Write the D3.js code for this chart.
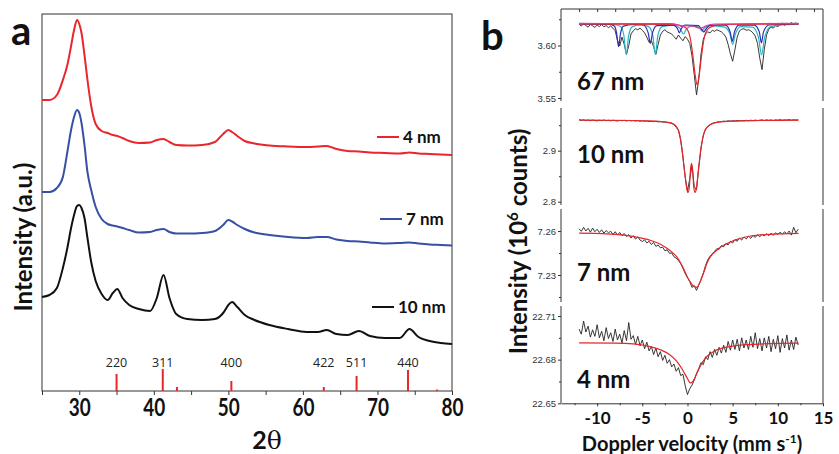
<!DOCTYPE html>
<html>
<head>
<meta charset="utf-8">
<script src="https://cdn.jsdelivr.net/npm/d3@7/dist/d3.min.js"></script>
<style>
  body { margin: 0; background: #fff; }
  svg { display: block; }
</style>
</head>
<body>
<div id="chart"></div>
<script>

// ---------- panel a : XRD ----------
var twoTheta = [25, 26, 27, 27.8, 28.4, 28.9, 29.3, 29.7, 30.0, 30.3, 30.7, 31.1, 31.6, 32.2, 33, 33.8, 34.5,
    35.1, 35.8, 36.7, 38, 39.5, 40.4, 41.3, 42.1, 43, 44.5, 46.5, 48.2, 49.3, 50.0, 50.5, 51.2, 52.2,
    53.5, 55.5, 58, 60.5, 62, 63.2, 64.5, 66, 67.5, 69, 71, 73, 74.3, 75.5, 77, 78.5, 80];
var xrd4nm = [291, 291, 296, 311, 326, 345, 361, 371, 367, 358, 336, 311, 285, 267, 260, 258, 256,
    255, 253, 250, 248, 248.5, 251, 252, 249, 246, 245.5, 246, 249, 257, 261, 259, 255, 250,
    247.5, 245.5, 244.5, 244, 244.5, 245, 242, 240, 239.5, 238.5, 238, 237.5, 238.5, 237.5, 237, 236.5, 236];
var xrd7nm = [199, 199, 203, 214, 239, 261, 274, 281, 278, 268, 246, 219, 201, 184, 172, 167, 165.5,
    164.5, 163, 161, 158.5, 159, 161, 162, 159, 157.5, 157.5, 158, 160, 166, 171, 169.5, 166, 162,
    158.5, 156, 154, 153, 154, 154, 151.5, 150, 149.5, 148.5, 147.5, 148, 148.5, 147.5, 146.5, 146, 145.5];
var xrd10nm = [94, 96, 103, 123, 143, 163, 176, 185, 186, 183, 173, 153, 129, 110, 97, 91, 98,
    102, 93, 86, 82, 80, 93, 116, 93, 77, 72, 71, 72, 78, 86, 89, 84, 76,
    71, 66, 62, 59, 59, 61, 57, 56, 60, 55, 53, 53, 62, 54, 50, 48, 47];
var refPos = [35.0, 41.2, 43.1, 50.4, 62.8, 67.2, 74.1, 78.0];
var refInt = [17, 22, 4, 10, 4, 15, 21, 1.5];
var refHkl = ["220", "311", "", "400", "422", "511", "440", ""];
var xrdTicks = [30, 40, 50, 60, 70, 80];
var xrdMinor = [25, 35, 45, 55, 65, 75];
var xrdNames = ["4 nm", "7 nm", "10 nm"];

// ---------- panel b : Mossbauer ----------
var vel = [-12,-11.75,-11.5,-11.25,-11,-10.75,-10.5,-10.25,-10,-9.75,-9.5,-9.25,-9,-8.75,-8.5,-8.25,
    -8,-7.75,-7.5,-7.25,-7,-6.75,-6.5,-6.25,-6,-5.75,-5.5,-5.25,-5,-4.75,-4.5,-4.25,
    -4,-3.75,-3.5,-3.25,-3,-2.75,-2.5,-2.25,-2,-1.75,-1.5,-1.25,-1,-0.75,-0.5,-0.25,
    0,0.25,0.5,0.75,1,1.25,1.5,1.75,2,2.25,2.5,2.75,3,3.25,3.5,3.75,
    4,4.25,4.5,4.75,5,5.25,5.5,5.75,6,6.25,6.5,6.75,7,7.25,7.5,7.75,
    8,8.25,8.5,8.75,9,9.25,9.5,9.75,10,10.25,10.5,10.75,11,11.25,11.5,11.75,12,12.25];

var counts67 = [3.6205,3.6185,3.6210,3.6190,3.6175,3.6200,3.6188,3.6172,
    3.6195,3.6180,3.6200,3.6178,3.6190,3.6170,3.6185,3.6165,
    3.6140,3.6050,3.5995,3.6080,3.6010,3.5915,3.6000,3.6110,
    3.6140,3.6160,3.6150,3.6165,3.6145,3.6120,3.6080,3.6030,
    3.6045,3.5990,3.5915,3.6010,3.6100,3.6135,3.6150,3.6130,
    3.6120,3.6110,3.6085,3.6060,3.6100,3.6070,3.6045,3.6085,
    3.6060,3.6020,3.5900,3.5720,3.5530,3.5680,3.5920,3.6060,
    3.6110,3.6130,3.6120,3.6145,3.6135,3.6150,3.6140,3.6130,
    3.6110,3.6080,3.6010,3.5920,3.5850,3.5960,3.6080,3.6140,
    3.6155,3.6160,3.6145,3.6150,3.6140,3.6120,3.6090,3.6020,
    3.5880,3.5770,3.5960,3.6100,3.6155,3.6175,3.6165,3.6190,
    3.6180,3.6195,3.6215,3.6190,3.6210,3.6195,3.6220,3.6200,
    3.6215,3.6200];
var counts10 = [2.9610,2.9595,2.9605,2.9590,2.9602,2.9588,2.9600,2.9592,
    2.9585,2.9598,2.9590,2.9602,2.9588,2.9596,2.9585,2.9598,
    2.9590,2.9582,2.9595,2.9587,2.9596,2.9584,2.9593,2.9585,
    2.9590,2.9580,2.9588,2.9578,2.9585,2.9575,2.9582,2.9572,
    2.9578,2.9570,2.9574,2.9565,2.9568,2.9560,2.9562,2.9552,
    2.9548,2.9535,2.9510,2.9460,2.9400,2.9210,2.8870,2.8480,
    2.8210,2.8450,2.8700,2.8300,2.8230,2.8680,2.9060,2.9300,
    2.9430,2.9480,2.9510,2.9535,2.9548,2.9558,2.9565,2.9570,
    2.9580,2.9574,2.9585,2.9578,2.9590,2.9582,2.9594,2.9586,
    2.9592,2.9584,2.9596,2.9588,2.9598,2.9590,2.9600,2.9592,
    2.9598,2.9604,2.9594,2.9606,2.9596,2.9603,2.9593,2.9605,
    2.9598,2.9608,2.9597,2.9605,2.9600,2.9610,2.9598,2.9607,
    2.9600,2.9606];
var counts7 = [7.2615,7.2598,7.2625,7.2600,7.2618,7.2592,7.2620,7.2595,
    7.2612,7.2590,7.2608,7.2585,7.2603,7.2588,7.2598,7.2576,
    7.2595,7.2572,7.2590,7.2568,7.2583,7.2562,7.2575,7.2552,
    7.2568,7.2545,7.2560,7.2538,7.2528,7.2540,7.2518,7.2530,
    7.2508,7.2522,7.2495,7.2505,7.2485,7.2490,7.2465,7.2472,
    7.2448,7.2450,7.2425,7.2415,7.2398,7.2378,7.2345,7.2310,
    7.2282,7.2255,7.2215,7.2228,7.2195,7.2232,7.2270,7.2312,
    7.2365,7.2405,7.2428,7.2445,7.2462,7.2480,7.2475,7.2500,
    7.2492,7.2515,7.2505,7.2530,7.2518,7.2542,7.2530,7.2552,
    7.2538,7.2560,7.2546,7.2565,7.2550,7.2570,7.2556,7.2575,
    7.2560,7.2578,7.2566,7.2582,7.2568,7.2585,7.2570,7.2588,
    7.2575,7.2592,7.2578,7.2595,7.2580,7.2600,7.2572,7.2625,
    7.2588,7.2612];
var counts4 = [22.7010,22.6975,22.7065,22.6990,22.7030,22.6955,22.7005,22.6960,
    22.7040,22.6950,22.6995,22.6930,22.7020,22.6945,22.6985,22.6925,
    22.7010,22.6935,22.6975,22.6915,22.7000,22.6930,22.7055,22.6940,
    22.6965,22.6905,22.6960,22.6895,22.6935,22.6875,22.6920,22.6860,
    22.6890,22.6835,22.6880,22.6820,22.6855,22.6795,22.6830,22.6775,
    22.6800,22.6750,22.6770,22.6720,22.6745,22.6690,22.6700,22.6620,
    22.6560,22.6600,22.6625,22.6660,22.6705,22.6740,22.6780,22.6765,
    22.6820,22.6800,22.6855,22.6815,22.6870,22.6830,22.6885,22.6845,
    22.6900,22.6850,22.6925,22.6865,22.6935,22.6870,22.6940,22.6860,
    22.6950,22.6880,22.6935,22.6870,22.6960,22.6885,22.6985,22.6875,
    22.6945,22.6860,22.6950,22.6880,22.6960,22.6855,22.6940,22.6875,
    22.6965,22.6850,22.6945,22.6880,22.6970,22.6865,22.6935,22.6870,
    22.6955,22.6900];

// fitted sub-spectra, [velocity, intensity]
var fit67Blue = [[-12,3.6205],[-8.6,3.6200],[-8.1,3.6185],[-7.85,3.6120],[-7.63,3.5990],[-7.4,3.6120],[-7.1,3.6185],
    [-6,3.6200],[-4.9,3.6195],[-4.35,3.6120],[-4.11,3.6020],[-3.87,3.6120],[-3.4,3.6190],[-1.6,3.6195],
    [-1.1,3.6160],[-0.9,3.6120],[-0.7,3.6160],[-0.2,3.6195],[1.2,3.6190],[1.6,3.6150],[1.8,3.6130],
    [2.0,3.6150],[2.5,3.6195],[4.2,3.6195],[4.72,3.6130],[4.96,3.6040],[5.2,3.6130],[5.7,3.6195],
    [7.4,3.6195],[7.95,3.6130],[8.18,3.6025],[8.42,3.6130],[9.0,3.6195],[12.3,3.6205]];
var fit67Cyan = [[-12,3.6205],[-8.2,3.6200],[-7.4,3.6180],[-7.05,3.6100],[-6.78,3.5915],[-6.5,3.6100],[-6.1,3.6180],
    [-5.2,3.6198],[-4.3,3.6180],[-3.85,3.6100],[-3.56,3.5915],[-3.27,3.6100],[-2.8,3.6180],[-1.5,3.6195],
    [-0.8,3.6160],[-0.45,3.6110],[-0.1,3.6160],[0.6,3.6190],[1.3,3.6170],[1.6,3.6140],[1.9,3.6170],
    [2.6,3.6190],[4.1,3.6175],[4.7,3.6110],[5.0,3.6010],[5.3,3.6110],[5.9,3.6180],[7.2,3.6175],
    [7.85,3.6080],[8.2,3.5910],[8.55,3.6080],[9.2,3.6180],[12.3,3.6205]];
var fit67Red = [[-12,3.6205],[-1.5,3.6200],[-0.5,3.6185],[0,3.6150],[0.35,3.6050],[0.6,3.5900],[0.85,3.5720],
    [1.07,3.5625],[1.3,3.5720],[1.55,3.5900],[1.8,3.6050],[2.2,3.6150],[2.8,3.6185],[4,3.6200],[12.3,3.6205]];
var fit67Magenta = [[-12,3.6210],[-2,3.6208],[-1,3.6195],[-0.6,3.6180],[-0.2,3.6190],[0.6,3.6185],[1.1,3.6170],
    [1.5,3.6165],[2.0,3.6185],[3,3.6205],[12.3,3.6210]];
var fit10Red = [[-12,2.9598],[-6,2.9592],[-3.5,2.9582],[-2.3,2.9560],[-1.6,2.9530],[-1.0,2.9400],[-0.6,2.9020],
    [-0.3,2.8560],[-0.08,2.8260],[0.05,2.8180],[0.2,2.8280],[0.33,2.8620],[0.45,2.8750],[0.57,2.8620],
    [0.7,2.8280],[0.85,2.8180],[0.98,2.8260],[1.2,2.8600],[1.5,2.9050],[1.9,2.9380],[2.5,2.9510],
    [3.4,2.9560],[5,2.9580],[8,2.9592],[12.3,2.9598]];
var fit7Red = [[-12,7.2585],[-9,7.2581],[-7,7.2572],[-5.5,7.2557],[-4.2,7.2538],[-3,7.2510],[-2,7.2470],
    [-1.2,7.2425],[-0.6,7.2365],[0.15,7.2268],[0.6,7.2228],[1.0,7.2216],[1.35,7.2245],[1.7,7.2300],
    [2.3,7.2400],[3.25,7.2470],[4.8,7.2527],[7.0,7.2566],[9.5,7.2579],[12.3,7.2584]];
var fit4Red = [[-12,22.6915],[-8,22.6914],[-6,22.6908],[-4.5,22.6895],[-3,22.6868],[-2,22.6835],[-1.2,22.6790],
    [-0.5,22.6725],[0,22.6670],[0.3,22.6640],[0.6,22.6650],[1.0,22.6700],[1.5,22.6765],[2.2,22.6825],
    [3,22.6860],[4.5,22.6888],[6.5,22.6903],[9,22.6910],[12.3,22.6913]];

var ticks67 = [3.55, 3.60], minor67 = [3.575, 3.625];
var ticks10 = [2.8, 2.9], minor10 = [2.85, 2.95];
var ticks7 = [7.23, 7.26], minor7 = [7.245, 7.215];
var ticks4 = [22.65, 22.68, 22.71], minor4 = [22.665, 22.695];
var velTicks = [-10, -5, 0, 5, 10, 15];
var velMinor = [-12.5, -7.5, -2.5, 2.5, 7.5, 12.5];
var velTopTicks = [-12, -10, -8, -6, -4, -2, 0, 2, 4, 6, 8, 10, 12, 14];
var sizeNames = ["67 nm", "10 nm", "7 nm", "4 nm"];

var LATO = "Lato, 'Open Sans', sans-serif";

var svg = d3.select("#chart").append("svg")
    .attr("width", 839).attr("height", 454);

// ================= panel a =================
var xA = d3.scaleLinear().domain([25, 80]).range([42, 452]);
var yA = d3.scaleLinear().domain([0, 377]).range([391, 14]);

svg.append("rect")
    .attr("x", 42).attr("y", 14).attr("width", 410).attr("height", 377)
    .attr("fill", "none").attr("stroke", "#333").attr("stroke-width", 1);

var axA = svg.append("g").attr("transform", "translate(0,391)")
    .call(d3.axisBottom(xA).tickValues(xrdTicks).tickSize(4).tickPadding(3).tickFormat(d3.format("d")));
axA.select(".domain").remove();
axA.selectAll("line").attr("stroke", "#333");
axA.selectAll("text")
    .attr("font-family", LATO).attr("font-weight", "bold").attr("font-size", 25)
    .attr("fill", "#111")
    .attr("textLength", 22).attr("lengthAdjust", "spacingAndGlyphs");

var axAm = svg.append("g").attr("transform", "translate(0,391)")
    .call(d3.axisBottom(xA).tickValues(xrdMinor).tickSize(4).tickFormat(""));
axAm.select(".domain").remove();
axAm.selectAll("line").attr("stroke", "#333");

var lineA = d3.line().curve(d3.curveMonotoneX);
var xrdSeries = [
    { vals: xrd4nm, color: "#e8262b", ly: 137 },
    { vals: xrd7nm, color: "#3550a5", ly: 219 },
    { vals: xrd10nm, color: "#111", ly: 307 }
];
xrdSeries.forEach(function(s, k) {
    var pts = twoTheta.map(function(t, i) { return [xA(t), yA(s.vals[i])]; });
    svg.append("path")
        .attr("d", lineA(pts))
        .attr("fill", "none").attr("stroke", s.color).attr("stroke-width", 2);
    var x0 = k == 2 ? 372 : (k == 1 ? 380 : 377);
    svg.append("line")
        .attr("x1", x0).attr("x2", x0 + 22).attr("y1", s.ly).attr("y2", s.ly)
        .attr("stroke", s.color).attr("stroke-width", 2);
    svg.append("text")
        .attr("x", x0 + 26).attr("y", s.ly + 6)
        .attr("font-family", LATO).attr("font-weight", "bold").attr("font-size", 17)
        .attr("fill", "#111")
        .text(xrdNames[k]);
});

// reference pattern bars
refPos.forEach(function(p, i) {
    svg.append("line")
        .attr("x1", xA(p)).attr("x2", xA(p))
        .attr("y1", yA(0)).attr("y2", yA(refInt[i]))
        .attr("stroke", "#e8262b").attr("stroke-width", 2);
    if (refHkl[i]) {
        svg.append("text")
            .attr("x", xA(p)).attr("y", 367)
            .attr("text-anchor", "middle")
            .attr("font-family", "'Open Sans', sans-serif").attr("font-size", 12.5)
            .attr("fill", "#222")
            .text(refHkl[i]);
    }
});

svg.append("text")
    .attr("transform", "translate(32,237) rotate(-90)")
    .attr("text-anchor", "middle")
    .attr("font-family", LATO).attr("font-weight", "bold").attr("font-size", 24)
    .attr("fill", "#111")
    .text("Intensity (a.u.)");

var tt = svg.append("text")
    .attr("x", 267).attr("y", 449)
    .attr("text-anchor", "middle")
    .attr("font-size", 25).attr("fill", "#111");
tt.append("tspan").attr("font-family", LATO).attr("font-weight", "bold").text("2");
tt.append("tspan").attr("font-family", "'DejaVu Serif', serif").text("\u03B8");

svg.append("text")
    .attr("x", 11).attr("y", 45)
    .attr("font-family", LATO).attr("font-weight", "bold").attr("font-size", 40)
    .attr("fill", "#111").text("a");

// ================= panel b =================
var xB = d3.scaleLinear().domain([-14, 15]).range([561, 823]);

var panels = [
    { counts: counts67, ticks: ticks67, minor: minor67, dom: [3.55, 3.60], rng: [98, 45.5], top: 9, bot: 101, ly: 90,
      fits: [[fit67Cyan, "#25b6c6"], [fit67Blue, "#2d2db4"], [fit67Red, "#e5262a"], [fit67Magenta, "#d93a9e"]] },
    { counts: counts10, ticks: ticks10, minor: minor10, dom: [2.8, 2.9], rng: [201.7, 150.7], top: 108, bot: 205, ly: 163,
      fits: [[fit10Red, "#e5262a"]] },
    { counts: counts7, ticks: ticks7, minor: minor7, dom: [7.23, 7.26], rng: [275, 231], top: 209, bot: 302, ly: 281,
      fits: [[fit7Red, "#e5262a"]] },
    { counts: counts4, ticks: ticks4, minor: minor4, dom: [22.65, 22.71], rng: [403.3, 316], top: 306, bot: 403.3, ly: 388,
      fits: [[fit4Red, "#e5262a"]] }
];

panels.forEach(function(p, k) {
    var y = d3.scaleLinear().domain(p.dom).range(p.rng);

    [561, 823].forEach(function(xx) {
        svg.append("line")
            .attr("x1", xx).attr("x2", xx).attr("y1", p.top).attr("y2", p.bot)
            .attr("stroke", "#333").attr("stroke-width", 1);
    });

    var ay = svg.append("g").attr("transform", "translate(561,0)")
        .call(d3.axisLeft(y).tickValues(p.ticks).tickSize(3).tickPadding(2).tickFormat(function(d) {
            return k == 1 ? d.toFixed(1) : d.toFixed(2);
        }));
    ay.select(".domain").remove();
    ay.selectAll("line").attr("stroke", "#333");
    ay.selectAll("text").attr("font-family", "'Liberation Sans', Arial, sans-serif")
        .attr("font-size", 9.5).attr("fill", "#333");

    var aym = svg.append("g").attr("transform", "translate(561,0)")
        .call(d3.axisLeft(y).tickValues(p.minor).tickSize(2).tickFormat(""));
    aym.select(".domain").remove();
    aym.selectAll("line").attr("stroke", "#333");

    var line = d3.line()
        .x(function(d, i) { return xB(vel[i]); })
        .y(function(d) { return y(d); });
    svg.append("path")
        .attr("d", line(p.counts))
        .attr("fill", "none").attr("stroke", "#222").attr("stroke-width", 0.9);

    var fitLine = d3.line()
        .x(function(d) { return xB(d[0]); })
        .y(function(d) { return y(d[1]); })
        .curve(d3.curveMonotoneX);
    p.fits.forEach(function(f) {
        svg.append("path")
            .attr("d", fitLine(f[0]))
            .attr("fill", "none").attr("stroke", f[1]).attr("stroke-width", 1.2);
    });

    svg.append("text")
        .attr("x", 577).attr("y", p.ly)
        .attr("font-family", LATO).attr("font-weight", "bold").attr("font-size", 24)
        .attr("fill", "#111").text(sizeNames[k]);
});

// top border of first panel with small ticks
svg.append("line").attr("x1", 561).attr("x2", 823).attr("y1", 9).attr("y2", 9)
    .attr("stroke", "#333").attr("stroke-width", 1);
var axTop = svg.append("g").attr("transform", "translate(0,9)")
    .call(d3.axisTop(xB).tickValues(velTopTicks).tickSize(-3).tickFormat(""));
axTop.select(".domain").remove();
axTop.selectAll("line").attr("stroke", "#333");

// bottom velocity axis
var axB = svg.append("g").attr("transform", "translate(0,403.3)")
    .call(d3.axisBottom(xB).tickValues(velTicks).tickSize(3).tickSizeOuter(0).tickPadding(6)
        .tickFormat(function(d) { return String(d); }));
axB.select(".domain").attr("stroke", "#333");
axB.selectAll("line").attr("stroke", "#333");
axB.selectAll("text")
    .attr("font-family", LATO).attr("font-weight", "bold").attr("font-size", 17)
    .attr("fill", "#111");
var axBm = svg.append("g").attr("transform", "translate(0,403.3)")
    .call(d3.axisBottom(xB).tickValues(velMinor).tickSize(2).tickFormat(""));
axBm.select(".domain").remove();
axBm.selectAll("line").attr("stroke", "#333");

var yl = svg.append("text")
    .attr("transform", "translate(527,241.5) rotate(-90)")
    .attr("text-anchor", "middle")
    .attr("font-family", LATO).attr("font-weight", "bold").attr("font-size", 24)
    .attr("fill", "#111");
yl.append("tspan").text("Intensity (10");
yl.append("tspan").attr("dy", -9).attr("font-size", 15).text("6");
yl.append("tspan").attr("dy", 9).text(" counts)");

var xl = svg.append("text")
    .attr("x", 692).attr("y", 451)
    .attr("text-anchor", "middle")
    .attr("font-family", LATO).attr("font-weight", "bold").attr("font-size", 20)
    .attr("fill", "#111");
xl.append("tspan").text("Doppler velocity (mm s");
xl.append("tspan").attr("dy", -8).attr("font-size", 12).text("-1");
xl.append("tspan").attr("dy", 8).text(")");

svg.append("text")
    .attr("x", 481).attr("y", 50)
    .attr("font-family", LATO).attr("font-weight", "bold").attr("font-size", 40)
    .attr("fill", "#111").text("b");

</script>
</body>
</html>
